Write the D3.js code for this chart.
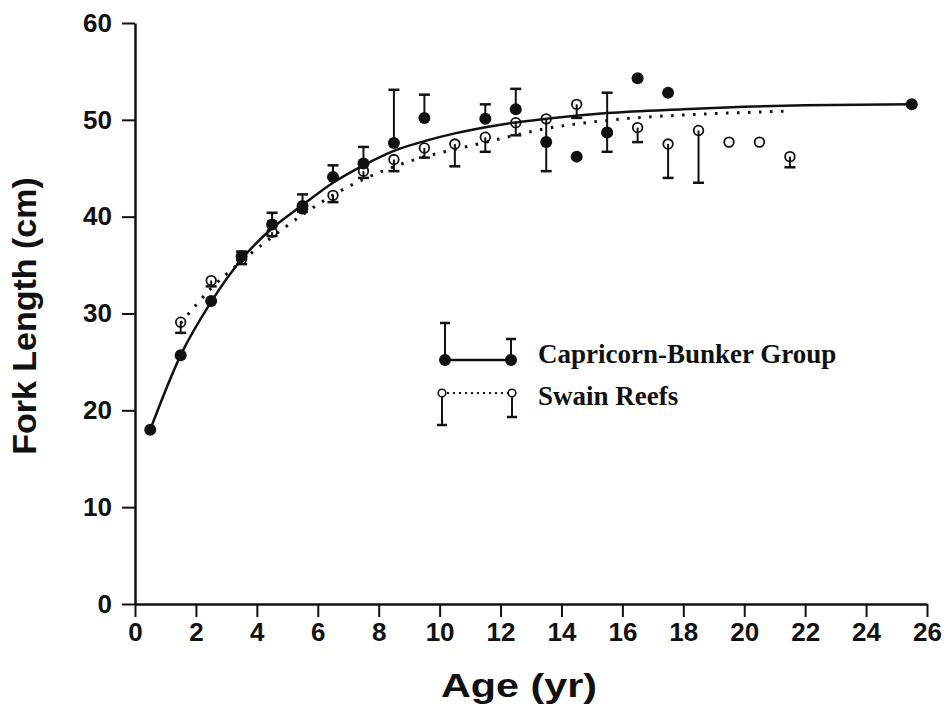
<!DOCTYPE html>
<html>

<head>
  <title>Fork length at age</title>
  <script type="text/javascript" src="https://cdn.jsdelivr.net/npm/d3@7"></script>
  <style>
    body {
      margin: 0;
      background-color: white;
    }
  </style>
</head>

<body>

  <script type="text/javascript">

    // Capricorn-Bunker Group (filled circles, error bar upwards)
    const capAge = [0.5, 1.5, 2.5, 3.5, 4.5, 5.5, 6.5, 7.5, 8.5, 9.5, 11.5, 12.5, 13.5, 14.5, 15.5, 16.5, 17.5, 25.5];
    const capLen = [18.0, 25.7, 31.3, 35.9, 39.2, 41.1, 44.1, 45.5, 47.6, 50.2, 50.1, 51.1, 47.7, 46.2, 48.7, 54.3, 52.8, 51.6];
    const capErrTop = [null, null, null, 36.4, 40.4, 42.3, 45.3, 47.2, 53.1, 52.6, 51.6, 53.2, null, null, 52.8, null, null, null];

    // Swain Reefs (open circles, error bar downwards)
    const swAge = [1.5, 2.5, 3.5, 4.5, 5.5, 6.5, 7.5, 8.5, 9.5, 10.5, 11.5, 12.5, 13.5, 14.5, 15.5, 16.5, 17.5, 18.5, 19.5, 20.5, 21.5];
    const swLen = [29.1, 33.4, 35.6, 38.4, 40.8, 42.2, 44.7, 45.9, 47.1, 47.5, 48.2, 49.7, 50.1, 51.6, 48.7, 49.2, 47.5, 48.9, 47.7, 47.7, 46.2];
    const swErrLow = [28.0, 32.8, 35.1, 38.0, 40.5, 41.5, 44.0, 44.7, 46.1, 45.2, 46.7, 48.4, 44.7, 50.2, 46.7, 47.7, 44.0, 43.5, null, null, 45.1];

    // growth curves
    const capFitAge = [0.5, 1.5, 2.5, 3.5, 4.5, 5.5, 6.5, 7.5, 8.5, 9.5, 10.5, 12, 13.5, 15.5, 18, 20, 22, 25.5];
    const capFitLen = [18.0, 25.7, 31.2, 35.6, 38.8, 41.2, 43.5, 45.3, 46.8, 47.8, 48.6, 49.5, 50.1, 50.7, 51.1, 51.35, 51.5, 51.6];
    const swFitAge = [1.5, 2.5, 3.5, 4.5, 5.5, 7, 8.2, 9.3, 10.3, 11.4, 13.5, 15.7, 18, 19.5, 21.5];
    const swFitLen = [29.0, 32.6, 35.4, 37.9, 40.2, 43.1, 44.8, 46.0, 46.8, 47.6, 49.1, 50.0, 50.5, 50.7, 50.9];

    // tick labels
    const xTicks = [0, 2, 4, 6, 8, 10, 12, 14, 16, 18, 20, 22, 24, 26];
    const yTicks = [0, 10, 20, 30, 40, 50, 60];

    const legendNames = ["Capricorn-Bunker Group", "Swain Reefs"];

    // Width og height
    const w = 951;
    const h = 718;

    const xScale = d3.scaleLinear()
      .domain([0, 26])
      .range([135, 927]);

    const yScale = d3.scaleLinear()
      .domain([0, 60])
      .range([604, 23]);

    const svg = d3.select("body")
      .append("svg")
      .attr("width", w)
      .attr("height", h);

    const cap = capAge.map(function (a, i) {
      return { age: a, len: capLen[i], err: capErrTop[i] };
    });
    const sw = swAge.map(function (a, i) {
      return { age: a, len: swLen[i], err: swErrLow[i] };
    });

    // Akser
    const xAxis = svg.append("g")
      .attr("transform", "translate(0," + yScale(0) + ")")
      .call(d3.axisBottom(xScale).tickValues(xTicks).tickSize(13).tickPadding(6).tickSizeOuter(0));

    const yAxis = svg.append("g")
      .attr("transform", "translate(" + xScale(0) + ",0)")
      .call(d3.axisLeft(yScale).tickValues(yTicks).tickSize(13).tickPadding(10).tickSizeOuter(0));

    [xAxis, yAxis].forEach(function (ax) {
      ax.select(".domain").attr("stroke", "#111").attr("stroke-width", 2.5);
      ax.selectAll(".tick line").attr("stroke", "#111").attr("stroke-width", 2);
      ax.selectAll(".tick text")
        .attr("fill", "#111")
        .attr("font-family", "'Liberation Sans', Arial, sans-serif")
        .attr("font-weight", "bold")
        .attr("font-size", "26px");
    });

    // Aksetitler
    svg.append("text")
      .attr("x", 519)
      .attr("y", 697)
      .attr("text-anchor", "middle")
      .attr("font-family", "'Liberation Sans', Arial, sans-serif")
      .attr("font-weight", "bold")
      .attr("font-size", "34px")
      .attr("textLength", 156)
      .attr("lengthAdjust", "spacingAndGlyphs")
      .attr("fill", "#111")
      .text("Age (yr)");

    svg.append("text")
      .attr("transform", "translate(36,316) rotate(-90)")
      .attr("text-anchor", "middle")
      .attr("font-family", "'Liberation Sans', Arial, sans-serif")
      .attr("font-weight", "bold")
      .attr("font-size", "34px")
      .attr("fill", "#111")
      .text("Fork Length (cm)");

    // Kurver
    const line = d3.line()
      .x(function (d) { return xScale(d[0]); })
      .y(function (d) { return yScale(d[1]); })
      .curve(d3.curveMonotoneX);

    svg.append("path")
      .datum(d3.zip(capFitAge, capFitLen))
      .attr("d", line)
      .attr("fill", "none")
      .attr("stroke", "#111")
      .attr("stroke-width", 2.5);

    svg.append("path")
      .datum(d3.zip(swFitAge, swFitLen))
      .attr("d", line)
      .attr("fill", "none")
      .attr("stroke", "#111")
      .attr("stroke-width", 3)
      .attr("stroke-dasharray", "2.5 8.5");

    // Error bars
    function errorBars(data, cls) {
      const g = svg.append("g").attr("class", cls);
      const withErr = data.filter(function (d) { return d.err !== null; });
      g.selectAll("line.stem")
        .data(withErr)
        .enter()
        .append("line")
        .attr("class", "stem")
        .attr("x1", function (d) { return xScale(d.age); })
        .attr("x2", function (d) { return xScale(d.age); })
        .attr("y1", function (d) { return yScale(d.len); })
        .attr("y2", function (d) { return yScale(d.err); })
        .attr("stroke", "#111")
        .attr("stroke-width", 2);
      g.selectAll("line.cap")
        .data(withErr)
        .enter()
        .append("line")
        .attr("class", "cap")
        .attr("x1", function (d) { return xScale(d.age) - 5.5; })
        .attr("x2", function (d) { return xScale(d.age) + 5.5; })
        .attr("y1", function (d) { return yScale(d.err); })
        .attr("y2", function (d) { return yScale(d.err); })
        .attr("stroke", "#111")
        .attr("stroke-width", 2.5);
    }

    errorBars(sw, "sw-err");
    errorBars(cap, "cap-err");

    // Punkter
    svg.selectAll("circle.sw")
      .data(sw)
      .enter()
      .append("circle")
      .attr("class", "sw")
      .attr("cx", function (d) { return xScale(d.age); })
      .attr("cy", function (d) { return yScale(d.len); })
      .attr("r", 4.8)
      .attr("fill", "none")
      .attr("stroke", "#111")
      .attr("stroke-width", 1.8);

    svg.selectAll("circle.cap")
      .data(cap)
      .enter()
      .append("circle")
      .attr("class", "cap")
      .attr("cx", function (d) { return xScale(d.age); })
      .attr("cy", function (d) { return yScale(d.len); })
      .attr("r", 6)
      .attr("fill", "#111");

    // Legend
    const lg = svg.append("g").attr("class", "legend");

    lg.append("line").attr("x1", 445).attr("x2", 511).attr("y1", 360).attr("y2", 360)
      .attr("stroke", "#111").attr("stroke-width", 2.5);
    [[445, 323], [511, 339]].forEach(function (p) {
      lg.append("line").attr("x1", p[0]).attr("x2", p[0]).attr("y1", 360).attr("y2", p[1])
        .attr("stroke", "#111").attr("stroke-width", 2);
      lg.append("line").attr("x1", p[0] - 5).attr("x2", p[0] + 5).attr("y1", p[1]).attr("y2", p[1])
        .attr("stroke", "#111").attr("stroke-width", 2.5);
      lg.append("circle").attr("cx", p[0]).attr("cy", 360).attr("r", 6).attr("fill", "#111");
    });

    lg.append("line").attr("x1", 447).attr("x2", 508).attr("y1", 393).attr("y2", 393)
      .attr("stroke", "#111").attr("stroke-width", 2).attr("stroke-dasharray", "2 4");
    [[442, 425], [512, 417]].forEach(function (p) {
      lg.append("line").attr("x1", p[0]).attr("x2", p[0]).attr("y1", 393).attr("y2", p[1])
        .attr("stroke", "#111").attr("stroke-width", 2);
      lg.append("line").attr("x1", p[0] - 5).attr("x2", p[0] + 5).attr("y1", p[1]).attr("y2", p[1])
        .attr("stroke", "#111").attr("stroke-width", 2.5);
      lg.append("circle").attr("cx", p[0]).attr("cy", 393).attr("r", 3.8)
        .attr("fill", "white").attr("stroke", "#111").attr("stroke-width", 1.6);
    });

    lg.selectAll("text")
      .data(legendNames)
      .enter()
      .append("text")
      .attr("x", 538)
      .attr("y", function (d, i) { return i === 0 ? 363 : 405; })
      .attr("font-family", "'Liberation Serif', 'Times New Roman', serif")
      .attr("font-weight", "bold")
      .attr("font-size", "27px")
      .attr("fill", "#111")
      .text(function (d) { return d; });

  </script>
</body>

</html>
